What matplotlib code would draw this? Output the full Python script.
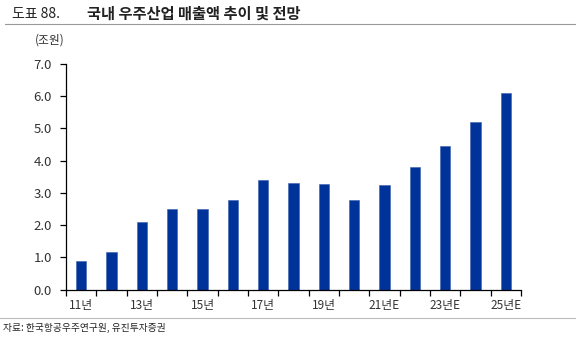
import matplotlib
matplotlib.use("Agg")
import matplotlib.pyplot as plt
from matplotlib.lines import Line2D
import numpy as np

plt.rcParams['font.family'] = ['Noto Sans CJK KR', 'DejaVu Sans']

years = ['11년', '12년', '13년', '14년', '15년', '16년', '17년', '18년', '19년', '20년',
         '21년E', '22년E', '23년E', '24년E', '25년E']
sales = [0.89, 1.17, 2.09, 2.50, 2.50, 2.79, 3.40, 3.30, 3.27, 2.78, 3.25, 3.80, 4.45, 5.21, 6.10]
yticks = [0.0, 1.0, 2.0, 3.0, 4.0, 5.0, 6.0, 7.0]

fig = plt.figure(figsize=(5.76, 3.38), dpi=100)
ax = fig.add_axes([66/576, 1 - 289.7/338, (521 - 66)/576, (289.7 - 64)/338])

x = np.arange(len(years))
ax.bar(x, sales, width=0.33, color='#003399', edgecolor='#3a5fb0', linewidth=0.4, zorder=2)

ax.set_xlim(-0.5, len(years) - 0.5)
ax.set_ylim(0, 7)
ax.set_yticks(yticks)
ax.set_yticklabels([f'{v:.1f}' for v in yticks], fontsize=9.5, color='#333333')

ax.set_xticks(x[::2])
ax.set_xticklabels(years[::2], fontsize=8.5, color='#333333')
ax.set_xticks(np.arange(-0.5, len(years), 1.0), minor=True)
ax.tick_params(axis='x', which='major', length=0, pad=7)
ax.tick_params(axis='x', which='minor', length=4, width=0.9, direction='out', color='black')
ax.tick_params(axis='y', length=4, width=0.9, direction='out', color='black', pad=6)

for s in ['top', 'right']:
    ax.spines[s].set_visible(False)
for s in ['left', 'bottom']:
    ax.spines[s].set_linewidth(0.9)

# header, rules and source note
fig.text(12/576, 1 - 14/338, '도표 88.', fontsize=10, va='center', ha='left', color='#222222')
fig.text(87/576, 1 - 14/338, '국내 우주산업 매출액 추이 및 전망', fontsize=11, fontweight='bold',
         va='center', ha='left', color='#222222')
fig.add_artist(Line2D([5/576, 1.0], [1 - 24/338] * 2, color='#999999', lw=0.8, transform=fig.transFigure))
fig.text(35/576, 1 - 40/338, '(조원)', fontsize=8.5, va='center', ha='left', color='#333333')
fig.add_artist(Line2D([0.0, 1.0], [1 - 318/338] * 2, color='#bbbbbb', lw=0.8, transform=fig.transFigure))
fig.text(3/576, 1 - 328/338, '자료: 한국항공우주연구원, 유진투자증권', fontsize=7, va='center', ha='left',
         color='#222222')

fig.savefig('out.png', dpi=100)
